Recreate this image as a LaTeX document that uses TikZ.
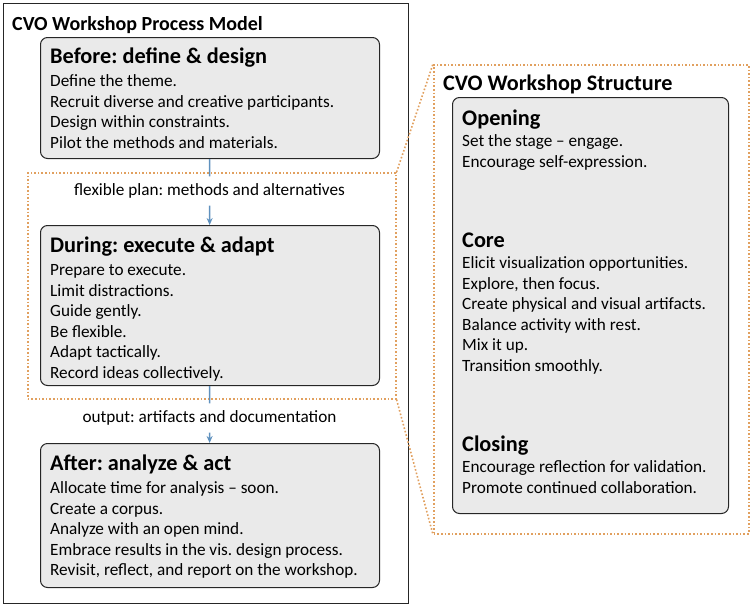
\documentclass[tikz,border=0pt]{standalone}
\usepackage{fontspec}
\setmainfont{Carlito}
\usetikzlibrary{arrows.meta}

\definecolor{boxgray}{RGB}{234,234,234}
\definecolor{dotorange}{RGB}{225,160,95}
\definecolor{flowblue}{RGB}{95,145,190}

\begin{document}
\frenchspacing
\begin{tikzpicture}[
        x=1pt, y=-1pt,
        frame/.style={draw=black!85, line width=1.2pt, minimum width=#1, anchor=north west, inner sep=0},
        stepbox/.style={draw=black!85, fill=boxgray, line width=1pt, rounded corners=7pt, anchor=north west, inner sep=0},
        zoombox/.style={draw=dotorange, dotted, line width=1.6pt, anchor=north west, inner sep=0},
        head/.style={anchor=base west, inner sep=0, font=\fontsize{20}{24}\selectfont\bfseries},
        title/.style={anchor=base west, inner sep=0, font=\fontsize{22.3}{26}\selectfont\bfseries},
        item/.style={anchor=base west, inner sep=0, font=\fontsize{17.2}{20}\selectfont},
        lbl/.style={inner xsep=2pt, inner ysep=7pt, font=\fontsize{17.2}{20}\selectfont},
        flow/.style={draw=flowblue, line width=1.5pt},
        ar/.style={flow, -{Stealth[length=7pt, width=6pt]}},
    ]

    \useasboundingbox (0,0) rectangle (755,608);

    % process model (left)
    \node[frame=405pt, minimum height=600pt] (model) at (3,3) {};
    \node[head] (modeltitle) at (12,30) {CVO Workshop Process Model};

    \node[zoombox, minimum width=368pt, minimum height=226pt] (zoomL) at (27,172) {};

    \node[stepbox, minimum width=339pt, minimum height=121pt] (before) at (40,37) {};
    \node[stepbox, minimum width=339pt, minimum height=160pt] (during) at (40,225) {};
    \node[stepbox, minimum width=339pt, minimum height=144pt] (after) at (40,443) {};

    \node[title] (beforetitle) at (50,63) {Before: define \& design};
    \foreach \t [count=\i] in {Define the theme., Recruit diverse and creative participants.,
            Design within constraints., Pilot the methods and materials.}
        \node[item] (before\i) at (50,66+20.5*\i) {\t};

    \node[title] (duringtitle) at (50,252) {During: execute \& adapt};
    \foreach \t [count=\i] in {Prepare to execute., Limit distractions., Guide gently.,
            Be flexible., Adapt tactically., Record ideas collectively.}
        \node[item] (during\i) at (50,255+20.5*\i) {\t};

    \node[title] (aftertitle) at (50,470) {After: analyze \& act};
    \foreach \t [count=\i] in {Allocate time for analysis -- soon., Create a corpus.,
            Analyze with an open mind., Embrace results in the vis. design process.,
            {Revisit, reflect, and report on the workshop.}}
        \node[item] (after\i) at (50,473+20.5*\i) {\t};

    \node[lbl] (plan) at (209.5,191) {flexible plan: methods and alternatives};
    \node[lbl] (output) at (209.5,418) {output: artifacts and documentation};

    \draw[flow] (before) -- (plan);
    \draw[ar] (plan) -- (during);
    \draw[flow] (during) -- (output);
    \draw[ar] (output) -- (after);

    % workshop structure (right)
    \node[zoombox, minimum width=315pt, minimum height=469pt] (zoomR) at (433,64) {};
    \node[head, font=\fontsize{22.2}{26}\selectfont\bfseries] (structtitle) at (443,90) {CVO Workshop Structure};
    \node[stepbox, minimum width=276pt, minimum height=416pt] (structure) at (452,97) {};

    \node[title] (opening) at (462,125) {Opening};
    \foreach \t [count=\i] in {Set the stage -- engage., Encourage self-expression.}
        \node[item] (opening\i) at (462,126+20.5*\i) {\t};

    \node[title] (core) at (462,247) {Core};
    \foreach \t [count=\i] in {Elicit visualization opportunities., {Explore, then focus.},
            Create physical and visual artifacts., Balance activity with rest.,
            Mix it up., Transition smoothly.}
        \node[item] (core\i) at (462,248+20.5*\i) {\t};

    \node[title] (closing) at (462,451) {Closing};
    \foreach \t [count=\i] in {Encourage reflection for validation., Promote continued collaboration.}
        \node[item] (closing\i) at (462,452+20.5*\i) {\t};

    \draw[zoombox] (zoomL.north east) -- (zoomR.north west);
    \draw[zoombox] (zoomL.south east) -- (zoomR.south west);

\end{tikzpicture}
\end{document}
